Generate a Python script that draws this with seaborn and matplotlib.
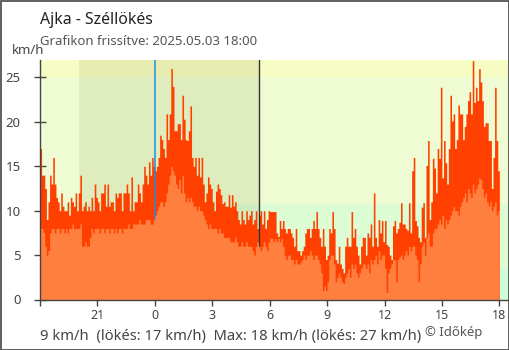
import numpy as np
import pandas as pd
import matplotlib
matplotlib.use("Agg")
import matplotlib.pyplot as plt
import seaborn as sns
from matplotlib.patches import Rectangle

# ---- data (5-minute values, 18:00 -> 18:00 next day) ----
gust_kmh = [
    17, 14, 14, 12.5, 9, 11, 14, 13, 16, 13, 11.5, 11,
    10, 12, 10.5, 10, 10, 11, 9.5, 11.5, 11, 10.5, 12, 10,
    12, 14, 10, 10.5, 11, 10, 10.5, 10, 11.5, 10, 13, 11.5,
    11, 10, 12, 12, 13, 10.5, 13, 10.5, 11, 11, 10, 12,
    11.5, 12, 12, 10, 12, 12, 13, 12, 10, 13.8, 10, 11,
    11, 13, 12, 11, 13, 15, 14, 13, 15.5, 14, 16, 15,
    14.5, 15, 16, 18.5, 18, 17, 16, 20.9, 18, 20.9, 26, 24,
    19, 19, 19.8, 19.8, 18, 23, 20.3, 18, 17.9, 19, 21.8, 16,
    15, 16, 14, 16, 13.8, 16, 13, 11, 12, 13.8, 13, 12.5,
    11, 10, 12.2, 13, 12.5, 11.8, 10.8, 11, 10.5, 10.5, 11.8, 10.4,
    11.8, 10.5, 11, 10, 9, 8.5, 10, 9, 8.5, 10, 9, 9.5,
    10, 8.5, 9, 10, 8, 9.5, 10, 8.5, 10, 8, 9, 10,
    9.9, 9.9, 9.9, 9.9, 7.5, 7.1, 8.9, 8, 8.9, 8, 7.5, 8,
    8, 7.5, 7, 6, 8, 5.5, 5.5, 5, 5.5, 6, 7.5, 8,
    8, 7, 8, 8.9, 8, 9.9, 8, 7, 6, 8, 6, 4.5,
    5, 8, 7.5, 9.9, 8, 4.5, 4.1, 6, 4, 3.5, 3, 6,
    7, 6, 6, 9.9, 7, 8, 6, 5, 4, 6, 7, 7,
    5, 7.5, 7, 8.5, 6, 12, 7, 6, 9, 7.5, 8.9, 6.5,
    8.9, 6.2, 6, 5, 4.5, 8.3, 8.9, 7.5, 8, 8.7, 10.9, 8.5,
    8.5, 8, 7.8, 10.9, 7.5, 14.5, 16, 8.9, 8.3, 7, 6.5, 10.4,
    10.9, 7, 15.1, 17.9, 9, 11, 15.9, 14.8, 12, 17, 15.9, 23.9,
    13.7, 17.9, 15.4, 13, 17, 23, 20.1, 20.9, 17, 18, 21.9, 20.9,
    20.9, 18, 19.5, 20.9, 22.4, 23.4, 20.9, 26.9, 22.2, 23.9, 22.4, 26,
    24.5, 22.4, 19.5, 19.9, 19.9, 17.9, 17.9, 12.5, 16, 23.9, 17.9, 14.5,
]
wind_kmh = [
    8, 8, 7.5, 6, 5, 5.5, 7.5, 8, 8, 7.5, 8, 8,
    7.5, 8, 8, 7.5, 8, 7.5, 8, 8, 8.5, 8, 8, 8,
    8, 8.5, 6, 6, 6.5, 6, 6, 7, 8, 7.5, 8, 8,
    8, 7.5, 8, 8, 7.5, 8, 8, 7.5, 8, 8, 7.5, 8,
    7.5, 8, 8, 7.5, 8, 8, 8, 8.5, 8, 8, 8.5, 8.5,
    8.5, 8.5, 9, 8.5, 8.5, 8.5, 9, 9, 9, 8.5, 8.5, 9,
    9.5, 10, 10.5, 11, 11, 10.5, 11, 12, 13, 14, 15, 14.5,
    14, 13, 12.5, 13.5, 12, 14, 12, 11, 11.5, 11, 11.5, 11,
    10.5, 10.5, 10, 10.5, 10, 10, 9.5, 9, 8.5, 8, 8.5, 8,
    8, 8, 8, 7.5, 8, 7.5, 7.5, 7, 7, 7, 7, 6.5,
    6.5, 6.5, 7, 6.5, 6, 6, 6.5, 6, 6, 6.5, 6, 6,
    6, 5.5, 5, 6, 6.5, 6, 5.5, 6, 6.5, 6, 5.5, 6.5,
    6.9, 6.9, 6.5, 6.9, 6.5, 6.9, 6.5, 6.9, 6, 5, 4.5, 5,
    5, 4.5, 4.5, 4, 4.5, 4, 4, 4.2, 4.5, 5, 4.5, 5,
    5, 5.5, 5, 4.5, 5, 5, 4.5, 4, 3, 1, 1.5, 1,
    2, 4.5, 5, 5, 4, 2, 2.5, 3, 2.5, 2, 1.8, 2.5,
    3, 3.5, 2.5, 4, 3.5, 4, 3, 2.5, 3, 3.5, 4, 4,
    3.5, 4, 3, 4.5, 4, 4.5, 5, 4, 5.5, 4.5, 5, 5,
    3.5, 0.8, 3, 3.5, 4, 4.5, 4.5, 2, 4.5, 4.8, 5, 4.5,
    5, 5.5, 5, 6, 5.5, 6, 6, 5, 4.5, 2, 4, 6,
    6.5, 5, 7, 7.5, 6, 6, 7.5, 8, 8, 8.5, 9, 8.5,
    9.5, 8, 9, 8.5, 9, 9.5, 10, 10.5, 10, 10, 9.5, 10.5,
    11, 11.5, 12, 11, 12.5, 12, 11.5, 13, 12, 12.5, 13, 13.7,
    13.5, 12.5, 11.5, 12, 11, 10.5, 11, 10, 10.5, 11, 9.5, 10,
]
tick_hours = [18, 21, 24, 27, 30, 33, 36, 39, 42]
tick_labels = ["", "21", "0", "3", "6", "9", "12", "15", "18"]
y_ticks = [0, 5, 10, 15, 20, 25]
title = "Ajka - Széllökés"
subtitle = "Grafikon frissítve: 2025.05.03 18:00"
footer = "9 km/h  (lökés: 17 km/h)  Max: 18 km/h (lökés: 27 km/h)"
credit = "© Időkép"
sunset_h, sunrise_h, midnight_h = 20.04, 29.44, 24.0

# ---- styling ----
sns.set_theme(style="white")
plt.rcParams["font.family"] = ["Noto Sans", "DejaVu Sans"]

W, H = 510, 350
fig = plt.figure(figsize=(W / 100, H / 100), dpi=100)
ax = fig.add_axes([40 / W, 50.5 / H, 469 / W, 239.5 / H])

xmin, xmax = 18, 18 + 469 / 19.14
ymax = 26.97

# background bands
bands = [(0, 3.4, "#cdfcdb"), (3.4, 10.8, "#dcfcd3"), (10.8, 25, "#effcd3"), (25, ymax, "#f6fcc4")]
for lo, hi, c in bands:
    ax.axhspan(lo, hi, color=c, lw=0, zorder=0)
# night shading
ax.axvspan(sunset_h, sunrise_h, color="#5a6400", alpha=0.1, lw=0, zorder=0.5)

step = 5 / 60
n = len(gust_kmh)
centers = 18 + step * (np.arange(n) + 0.5)
df = pd.DataFrame({"t": centers, "gust": gust_kmh, "wind": wind_kmh})

sns.histplot(data=df, x="t", weights="gust", binwidth=step, binrange=(18, 18 + n * step),
             element="step", fill=True, color="#ff4000", alpha=1, linewidth=0, ax=ax, zorder=2)
ax.axvline(midnight_h, color="#1e8fe6", lw=1.1, zorder=3)
ax.axvline(sunrise_h, color="#333333", lw=1, zorder=3)
sns.histplot(data=df, x="t", weights="wind", binwidth=step, binrange=(18, 18 + n * step),
             element="step", fill=True, color="#ff7f3f", alpha=1, linewidth=0, ax=ax, zorder=4)

ax.set_xlim(xmin, xmax)
ax.set_ylim(0, ymax)
ax.set_xlabel("")
ax.set_ylabel("")

for s in ["top", "right"]:
    ax.spines[s].set_visible(False)
for s in ["left", "bottom"]:
    ax.spines[s].set_color("#444444")
    ax.spines[s].set_linewidth(1)
    ax.spines[s].set_zorder(6)

ax.set_xticks(tick_hours)
ax.set_xticklabels(tick_labels)
ax.set_yticks(y_ticks)
ax.tick_params(axis="x", direction="out", length=4.3, width=1, color="#444444",
               labelsize=9, labelcolor="#444444", pad=2.5, bottom=True)
ax.tick_params(axis="y", direction="inout", length=8.6, width=1, color="#444444",
               labelsize=9.5, labelcolor="#444444", pad=9.5, left=True)
for tk in ax.xaxis.get_major_ticks():
    if abs(tk.get_loc() - midnight_h) < 1e-6:
        tk.tick1line.set_color("#1e8fe6")
ax.grid(False)

# texts
fig.text(40 / W, 1 - 24 / H, title, fontsize=11.4, color="#222222", va="baseline", ha="left")
fig.text(40 / W, 1 - 45 / H, subtitle, fontsize=9.5, color="#555555", va="baseline", ha="left")
fig.text(28 / W, 1 - 54 / H, "km/h", fontsize=9.5, color="#444444", va="baseline", ha="center")
fig.text(40 / W, 1 - 340 / H, footer, fontsize=10.6, color="#444444", va="baseline", ha="left")
fig.text(425 / W, 1 - 336 / H, credit, fontsize=9.5, color="#555555", va="baseline", ha="left")

# figure border
fig.add_artist(Rectangle((0.5 / W, 0.5 / H), 508.5 / W, 348.5 / H, transform=fig.transFigure,
                         fill=False, edgecolor="#444444", lw=1.2, zorder=10))

fig.savefig("out.png", dpi=100)
